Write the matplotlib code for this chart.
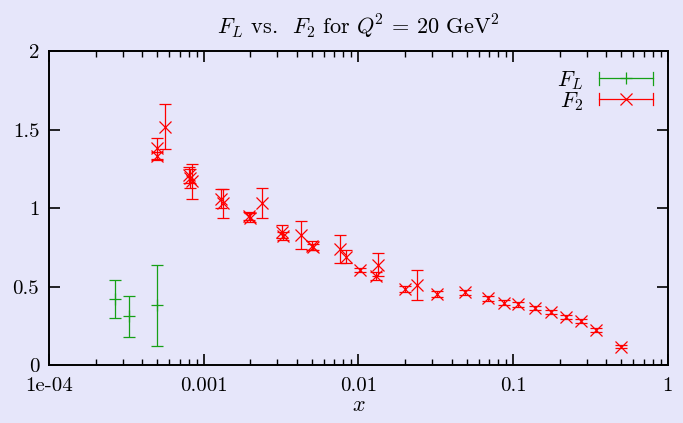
import matplotlib
matplotlib.use("Agg")
import matplotlib.pyplot as plt
from matplotlib.legend_handler import HandlerBase
from matplotlib.lines import Line2D
from matplotlib.ticker import LogLocator, FixedLocator, NullFormatter

# --- data ---
fl_x = [2.67e-4, 3.27e-4, 5.0e-4]
fl_y = [0.42, 0.31, 0.38]
fl_err = [0.12, 0.133, 0.26]

f2_x = [5.0e-4, 5.0e-4, 5.65e-4, 8.0e-4, 8.2e-4, 8.4e-4, 1.3e-3, 1.33e-3,
        2.0e-3, 1.95e-3, 2.4e-3, 3.2e-3, 3.25e-3, 4.25e-3, 5.0e-3, 5.1e-3,
        7.6e-3, 8.3e-3, 1.02e-2, 1.33e-2, 1.3e-2, 2.0e-2, 2.4e-2, 3.2e-2,
        4.9e-2, 6.9e-2, 8.8e-2, 0.108, 0.138, 0.177, 0.22, 0.275, 0.345, 0.5]
f2_y = [1.38, 1.33, 1.52, 1.21, 1.19, 1.17, 1.06, 1.03,
        0.94, 0.95, 1.03, 0.85, 0.82, 0.83, 0.76, 0.75,
        0.74, 0.69, 0.605, 0.64, 0.57, 0.485, 0.51, 0.455,
        0.463, 0.425, 0.397, 0.386, 0.361, 0.336, 0.304, 0.28, 0.223, 0.117]
f2_err = [0.065, 0.025, 0.145, 0.05, 0.06, 0.11, 0.06, 0.09,
          0.03, 0.025, 0.095, 0.04, 0.025, 0.09, 0.03, 0.02,
          0.09, 0.04, 0.015, 0.075, 0.025, 0.02, 0.095, 0.02,
          0.015, 0.015, 0.015, 0.013, 0.013, 0.012, 0.012, 0.011, 0.01, 0.01]

x_ticks = [1e-4, 1e-3, 1e-2, 1e-1, 1]
x_labels = ["1e-04", "0.001", "0.01", "0.1", "1"]
y_ticks = [0, 0.5, 1, 1.5, 2]
y_labels = ["0", "0.5", "1", "1.5", "2"]

BG = "#e6e6fa"
GREEN = "#16a016"
RED = "#ff0000"

plt.rcParams["font.family"] = "cmr10"
plt.rcParams["mathtext.fontset"] = "cm"
plt.rcParams["axes.unicode_minus"] = False


class HandlerHBar(HandlerBase):
    """gnuplot-like key sample: horizontal bar with end caps and marker."""

    def __init__(self, color, marker, ms):
        super().__init__()
        self.color = color
        self.marker = marker
        self.ms = ms

    def create_artists(self, legend, orig_handle, xdescent, ydescent,
                       width, height, fontsize, trans):
        y = height / 2 - ydescent
        x0, x1 = -xdescent, width - xdescent
        h = 4.5
        arts = [
            Line2D([x0, x1], [y, y], color=self.color, lw=0.9),
            Line2D([x0, x0], [y - h, y + h], color=self.color, lw=0.9),
            Line2D([x1, x1], [y - h, y + h], color=self.color, lw=0.9),
            Line2D([(x0 + x1) / 2], [y], color=self.color, marker=self.marker,
                   ms=self.ms, mew=0.9, ls="none"),
        ]
        for a in arts:
            a.set_transform(trans)
        return arts


fig = plt.figure(figsize=(6.83, 4.23), dpi=100, facecolor=BG)
ax = fig.add_axes([0.0717, 0.137, 0.906, 0.742], facecolor=BG)

h_fl = ax.errorbar(fl_x, fl_y, yerr=fl_err, fmt="+", color=GREEN, ms=9,
                   mew=0.9, elinewidth=0.9, capsize=4.5, capthick=0.9)
h_f2 = ax.errorbar(f2_x, f2_y, yerr=f2_err, fmt="x", color=RED, ms=8,
                   mew=0.9, elinewidth=0.9, capsize=4.5, capthick=0.9)

ax.set_xscale("log")
ax.set_xlim(1e-4, 1)
ax.set_ylim(0, 2)
ax.xaxis.set_major_locator(FixedLocator(x_ticks))
ax.set_xticklabels(x_labels)
ax.xaxis.set_minor_locator(LogLocator(base=10, subs=range(2, 10), numticks=20))
ax.xaxis.set_minor_formatter(NullFormatter())
ax.set_yticks(y_ticks)
ax.set_yticklabels(y_labels)

ax.tick_params(which="both", direction="in", top=True, right=True,
               labelsize=15, colors="black")
ax.tick_params(which="major", length=8, width=1.2, pad=7)
ax.tick_params(axis="x", which="major", pad=9)
ax.tick_params(which="minor", length=4, width=1.0)
for s in ax.spines.values():
    s.set_linewidth(1.4)

ax.set_title(r"$F_L$ vs.  $F_2$ for $Q^{\!2}$ = 20 GeV$^2$", fontsize=16, pad=12)
ax.set_xlabel(r"$x$", fontsize=16, labelpad=0)

ax.legend([h_fl, h_f2], [r"$F_L$", r"$F_2$"],
          handler_map={h_fl: HandlerHBar(GREEN, "+", 9),
                       h_f2: HandlerHBar(RED, "x", 8)},
          loc="upper right", bbox_to_anchor=(0.998, 0.985), frameon=False,
          markerfirst=False, fontsize=16, handlelength=2.45,
          labelspacing=-0.1, handletextpad=0.7, borderaxespad=0.2)

fig.savefig("out.png", dpi=100, facecolor=BG)
